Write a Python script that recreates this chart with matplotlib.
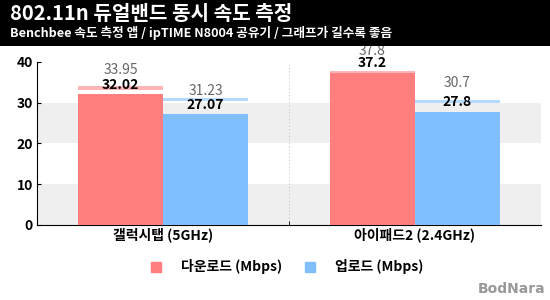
import matplotlib
matplotlib.use("Agg")
import matplotlib.pyplot as plt
from matplotlib.lines import Line2D

plt.rcParams['font.family'] = ['Noto Sans CJK KR', 'DejaVu Sans']

categories = ["갤럭시탭 (5GHz)", "아이패드2 (2.4GHz)"]
series_names = ["다운로드 (Mbps)", "업로드 (Mbps)"]
download = [32.02, 37.2]
upload = [27.07, 27.8]
download_max = [33.95, 37.8]
upload_max = [31.23, 30.7]

title = "802.11n 듀얼밴드 동시 속도 측정"
subtitle = "Benchbee 속도 측정 앱 / ipTIME N8004 공유기 / 그래프가 길수록 좋음"

red, red_light = "#FF7F7F", "#FFB5B5"
blue, blue_light = "#80BFFF", "#B5DAFF"

fig = plt.figure(figsize=(5.5, 3.0), dpi=100)

ax = fig.add_axes([37 / 550, 0.25, 504 / 550, 1 - 61.7 / 300 - 0.25])
ax.set_xlim(-0.5, 1.5)
ax.set_ylim(0, 40)

for lo in (0, 20):
    ax.axhspan(lo, lo + 10, color="#EFEFEF", zorder=0, lw=0)
for xv in (0.5, 1.5):
    ax.axvline(xv, color="#BBBBBB", ls=(0, (1, 2.5)), lw=0.7, zorder=1)

w = 0.337
strip = 0.9
xs = list(range(len(categories)))
pt_per_unit = 4.1 * 0.72  # axis height in points per data unit

def draw(offset, vals, tops, c, cl):
    for x, v, t in zip(xs, vals, tops):
        bx = x + offset
        ax.bar(bx, strip, bottom=t - strip, width=w, color=cl, zorder=2, lw=0)
        ax.bar(bx, v, width=w, color=c, zorder=3, lw=0)
        ax.annotate(f"{v:g}", (bx, v), xytext=(0, 2), textcoords="offset points",
                    ha="center", va="bottom", fontsize=10, fontweight="bold",
                    color="black", zorder=5)
        # gray max label: lower when there is room, raised when bars are close
        if t - v > 3.5:
            dy = 0
        else:
            dy = max(7, (v - t) * pt_per_unit + 11)
        ax.annotate(f"{t:g}", (bx, t), xytext=(0, dy), textcoords="offset points",
                    ha="center", va="bottom", fontsize=10, color="#666666", zorder=5,
                    annotation_clip=False)

draw(-w / 2, download, download_max, red, red_light)
draw(w / 2, upload, upload_max, blue, blue_light)

for s in ("top", "right"):
    ax.spines[s].set_visible(False)

ax.set_yticks([0, 10, 20, 30, 40])
ax.tick_params(axis="y", direction="in", length=3, labelsize=10, pad=3)
for lab in ax.get_yticklabels():
    lab.set_fontweight("bold")
ax.set_xticks(xs)
ax.set_xticklabels(categories, fontsize=10, fontweight="bold")
ax.tick_params(axis="x", length=0, pad=2)
ax.set_xticks([0.5], minor=True)
ax.tick_params(axis="x", which="minor", direction="in", length=3)

# header band drawn over the plot area
hdr = fig.add_axes([0, 1 - 46 / 300, 1, 46 / 300])
hdr.set_facecolor("black")
hdr.set_xticks([])
hdr.set_yticks([])
for s in hdr.spines.values():
    s.set_visible(False)
fig.text(10 / 550, 1 - 14 / 300, title, color="white", fontsize=14.5, fontweight="bold",
         va="center", ha="left")
fig.text(10 / 550, 1 - 33 / 300, subtitle, color="white", fontsize=9.1, fontweight="bold",
         va="center", ha="left")

handles = [Line2D([], [], marker="s", ls="", color=c, markersize=7) for c in (red, blue)]
fig.legend(handles, series_names, loc="center", bbox_to_anchor=(283 / 550, 1 - 267 / 300),
           ncol=2, frameon=False, handletextpad=0.8, columnspacing=1.0,
           prop={"weight": "bold", "size": 10})

fig.text(545 / 550, 1 - 289 / 300, "BodNara", color="#999999", fontsize=10,
         fontweight="bold", ha="right", va="center", family="DejaVu Sans")

fig.savefig("out.png", dpi=100)
